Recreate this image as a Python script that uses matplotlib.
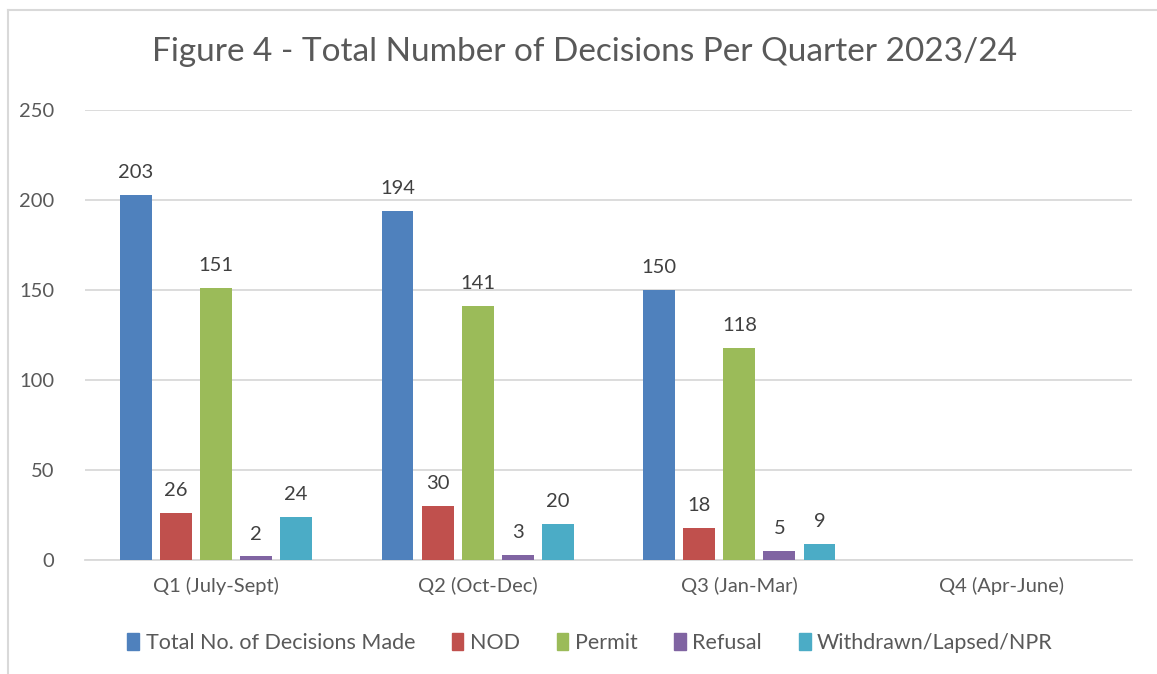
import matplotlib
matplotlib.use("Agg")
import matplotlib.pyplot as plt
from matplotlib.lines import Line2D
import numpy as np

categories = ["Q1 (July-Sept)", "Q2 (Oct-Dec)", "Q3 (Jan-Mar)", "Q4 (Apr-June)"]
series_names = ["Total No. of Decisions Made", "NOD", "Permit", "Refusal", "Withdrawn/Lapsed/NPR"]
total = [203, 194, 150, None]
nod = [26, 30, 18, None]
permit = [151, 141, 118, None]
refusal = [2, 3, 5, None]
withdrawn = [24, 20, 9, None]
colors = ["#4F81BD", "#C0504D", "#9BBB59", "#8064A2", "#4BACC6"]
yticks = [0, 50, 100, 150, 200, 250]

plt.rcParams['font.family'] = ['Lato', 'DejaVu Sans']
txt = "#595959"

fig = plt.figure(figsize=(11.57, 6.74), dpi=100)
ax = fig.add_axes([85/1157, 1-560/674, (1132-85)/1157, 450/674])

x = np.arange(len(categories))
step = 0.153
width = 0.122
all_series = [total, nod, permit, refusal, withdrawn]
for i, (vals, c) in enumerate(zip(all_series, colors)):
    xs = [xi + (i-2)*step for xi, v in zip(x, vals) if v is not None]
    vs = [v for v in vals if v is not None]
    ax.bar(xs, vs, width=width, color=c, zorder=3)
    for xx, v in zip(xs, vs):
        ax.annotate(str(v), (xx, v), xytext=(0, 10), textcoords="offset points",
                    ha="center", va="bottom", fontsize=14.5, color="#404040")

ax.set_xlim(-0.5, len(categories)-0.5)
ax.set_ylim(0, 250)
ax.set_yticks(yticks)
ax.set_xticks(x)
ax.set_xticklabels(categories)
ax.tick_params(axis='both', length=0, labelsize=14.5, labelcolor=txt)
ax.tick_params(axis='y', pad=22)
ax.tick_params(axis='x', pad=12)
ax.grid(axis='y', color="#D9D9D9", linewidth=1.3, zorder=0)
for s in ["top", "right", "left"]:
    ax.spines[s].set_visible(False)
ax.spines["bottom"].set_color("#D9D9D9")
ax.spines["bottom"].set_linewidth(1.3)

fig.text(585/1157, 1-52/674, "Figure 4 - Total Number of Decisions Per Quarter 2023/24",
         ha="center", va="center", fontsize=24, color=txt)

handles = [plt.Rectangle((0, 0), 1, 1, color=c) for c in colors]
fig.legend(handles, series_names, loc="center", bbox_to_anchor=(590/1157, 1-643/674),
           ncol=5, frameon=False, fontsize=15.5, labelcolor=txt,
           handlelength=0.55, handleheight=0.85, handletextpad=0.3, columnspacing=1.7)

# outer chart border (cropped)
fig.add_artist(Line2D([8/1157, 1], [1-10/674, 1-10/674], color="#D9D9D9", lw=1.5, transform=fig.transFigure))
fig.add_artist(Line2D([8/1157, 8/1157], [0, 1-10/674], color="#D9D9D9", lw=1.5, transform=fig.transFigure))

fig.savefig("out.png", dpi=100)
